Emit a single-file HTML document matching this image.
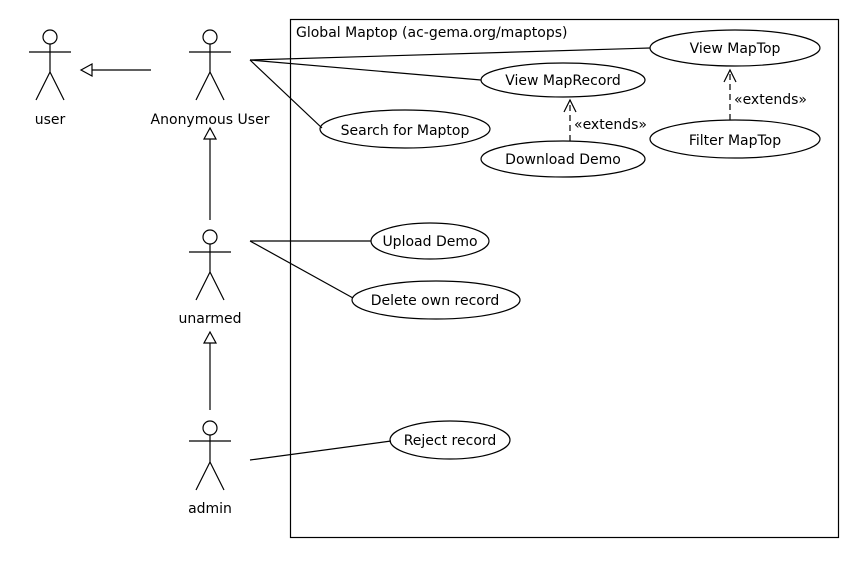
<!DOCTYPE html>
<html><head><meta charset="utf-8"><style>
html,body{margin:0;padding:0;background:#fff}
svg text{font-family:"DejaVu Sans","Liberation Sans",sans-serif;font-size:14px;fill:#000}
</style></head><body>
<svg width="860" height="560" viewBox="0 0 860 560" xmlns="http://www.w3.org/2000/svg">
<g fill="none" stroke="#000" stroke-width="1.2">
<rect x="290.5" y="19.5" width="548" height="518"/>
<g><circle cx="50" cy="37" r="7"/><line x1="29" y1="52" x2="71" y2="52"/><line x1="50" y1="44" x2="50" y2="72"/><line x1="50" y1="72" x2="36" y2="100"/><line x1="50" y1="72" x2="64" y2="100"/></g>
<g><circle cx="210" cy="37" r="7"/><line x1="189" y1="52" x2="231" y2="52"/><line x1="210" y1="44" x2="210" y2="72"/><line x1="210" y1="72" x2="196" y2="100"/><line x1="210" y1="72" x2="224" y2="100"/></g>
<g><circle cx="210" cy="237" r="7"/><line x1="189" y1="252" x2="231" y2="252"/><line x1="210" y1="244" x2="210" y2="272"/><line x1="210" y1="272" x2="196" y2="300"/><line x1="210" y1="272" x2="224" y2="300"/></g>
<g><circle cx="210" cy="428" r="7"/><line x1="189" y1="441" x2="231" y2="441"/><line x1="210" y1="435" x2="210" y2="462"/><line x1="210" y1="462" x2="196" y2="490"/><line x1="210" y1="462" x2="224" y2="490"/></g>
<line x1="151" y1="70" x2="92" y2="70"/><polygon points="81,70 92,64 92,76"/>
<line x1="210" y1="220" x2="210" y2="139"/><polygon points="210,128 204,139 216,139"/>
<line x1="210" y1="410" x2="210" y2="343"/><polygon points="210,332 204,343 216,343"/>
<ellipse cx="735" cy="48" rx="85" ry="18"/>
<ellipse cx="563" cy="80" rx="82" ry="17"/>
<ellipse cx="405" cy="129" rx="85" ry="19"/>
<ellipse cx="563" cy="159" rx="82" ry="18"/>
<ellipse cx="735" cy="139" rx="85" ry="19"/>
<ellipse cx="430" cy="241" rx="59" ry="18"/>
<ellipse cx="436" cy="300" rx="84" ry="19"/>
<ellipse cx="450" cy="440" rx="60" ry="19"/>
<line x1="250" y1="60" x2="650" y2="48"/>
<line x1="250" y1="60" x2="481" y2="80"/>
<line x1="250" y1="60" x2="322" y2="128"/>
<line x1="250" y1="241" x2="371" y2="241"/>
<line x1="250" y1="241" x2="353" y2="298"/>
<line x1="250" y1="460" x2="391" y2="441"/>
<line x1="570" y1="141" x2="570" y2="100" stroke-dasharray="6,4"/>
<polyline points="564,112 570,100 576,112"/>
<line x1="730" y1="120" x2="730" y2="70" stroke-dasharray="6,4"/>
<polyline points="724,82 730,70 736,82"/>
</g>
<text x="296" y="37">Global Maptop (ac-gema.org/maptops)</text>
<text x="50" y="124" text-anchor="middle">user</text>
<text x="210" y="124" text-anchor="middle">Anonymous User</text>
<text x="210" y="323" text-anchor="middle">unarmed</text>
<text x="210" y="513" text-anchor="middle">admin</text>
<text x="735" y="53" text-anchor="middle">View MapTop</text>
<text x="563" y="85" text-anchor="middle">View MapRecord</text>
<text x="405" y="135" text-anchor="middle">Search for Maptop</text>
<text x="563" y="164" text-anchor="middle">Download Demo</text>
<text x="735" y="145" text-anchor="middle">Filter MapTop</text>
<text x="430" y="246" text-anchor="middle">Upload Demo</text>
<text x="435" y="305" text-anchor="middle">Delete own record</text>
<text x="450" y="445" text-anchor="middle">Reject record</text>
<text x="574" y="129">«extends»</text>
<text x="734" y="104">«extends»</text>
</svg>
</body></html>
